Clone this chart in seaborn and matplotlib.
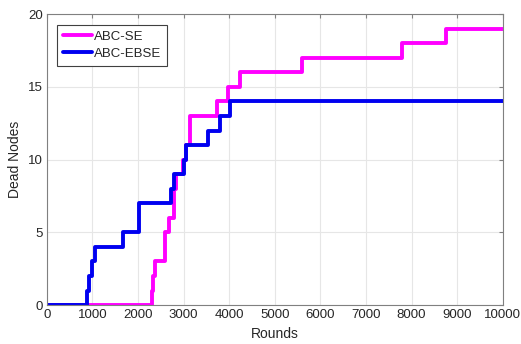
import pandas as pd
import seaborn as sns
import matplotlib.pyplot as plt

# Step data (round at which the count changes)
se_rounds = [0, 2300, 2330, 2380, 2590, 2680, 2790, 2830, 2980, 3050, 3135, 3740, 3980, 4230, 5600, 7780, 8760, 10000]
se_dead = [0, 1, 2, 3, 5, 6, 8, 9, 10, 11, 13, 14, 15, 16, 17, 18, 19, 19]

ebse_rounds = [0, 880, 930, 990, 1050, 1660, 2010, 2720, 2790, 3000, 3060, 3540, 3800, 4010, 10000]
ebse_dead = [0, 1, 2, 3, 4, 5, 7, 8, 9, 10, 11, 12, 13, 14, 14]

df = pd.concat([
    pd.DataFrame({'Rounds': se_rounds, 'Dead Nodes': se_dead, 'Protocol': 'ABC-SE'}),
    pd.DataFrame({'Rounds': ebse_rounds, 'Dead Nodes': ebse_dead, 'Protocol': 'ABC-EBSE'}),
])

sns.set_style('whitegrid')
plt.rcParams['font.family'] = ['Liberation Sans', 'DejaVu Sans']

fig, ax = plt.subplots(figsize=(5.21, 3.44), dpi=100)
fig.subplots_adjust(left=0.09, right=0.965, top=0.959, bottom=0.113)

sns.lineplot(data=df, x='Rounds', y='Dead Nodes', hue='Protocol',
             palette={'ABC-SE': '#ff00ff', 'ABC-EBSE': '#0000f0'},
             drawstyle='steps-post', linewidth=2.8, ax=ax, legend=False)

ax.set_xlim(0, 10000)
ax.set_ylim(0, 20)
ax.set_xticks(range(0, 10001, 1000))
ax.set_yticks(range(0, 21, 5))
ax.grid(True, color='#e6e6e6', linewidth=0.8)
for s in ax.spines.values():
    s.set_color('#808080')
    s.set_linewidth(0.8)
ax.tick_params(direction='in', length=3, color='#808080', labelsize=9.5,
               top=True, right=True, pad=3)
ax.set_xlabel('Rounds', fontsize=10)
ax.set_ylabel('Dead Nodes', fontsize=10)

handles = [plt.Line2D([], [], color='#ff00ff', lw=2.8), plt.Line2D([], [], color='#0000f0', lw=2.8)]
leg = ax.legend(handles, ['ABC-SE', 'ABC-EBSE'], loc='upper left', fontsize=9.5,
                handlelength=2.2, handletextpad=0.1, borderaxespad=0.8,
                fancybox=False, framealpha=1, edgecolor='#404040',
                borderpad=0.45, labelspacing=0.35)
leg.get_frame().set_linewidth(0.8)

fig.savefig('out.png', dpi=100)
